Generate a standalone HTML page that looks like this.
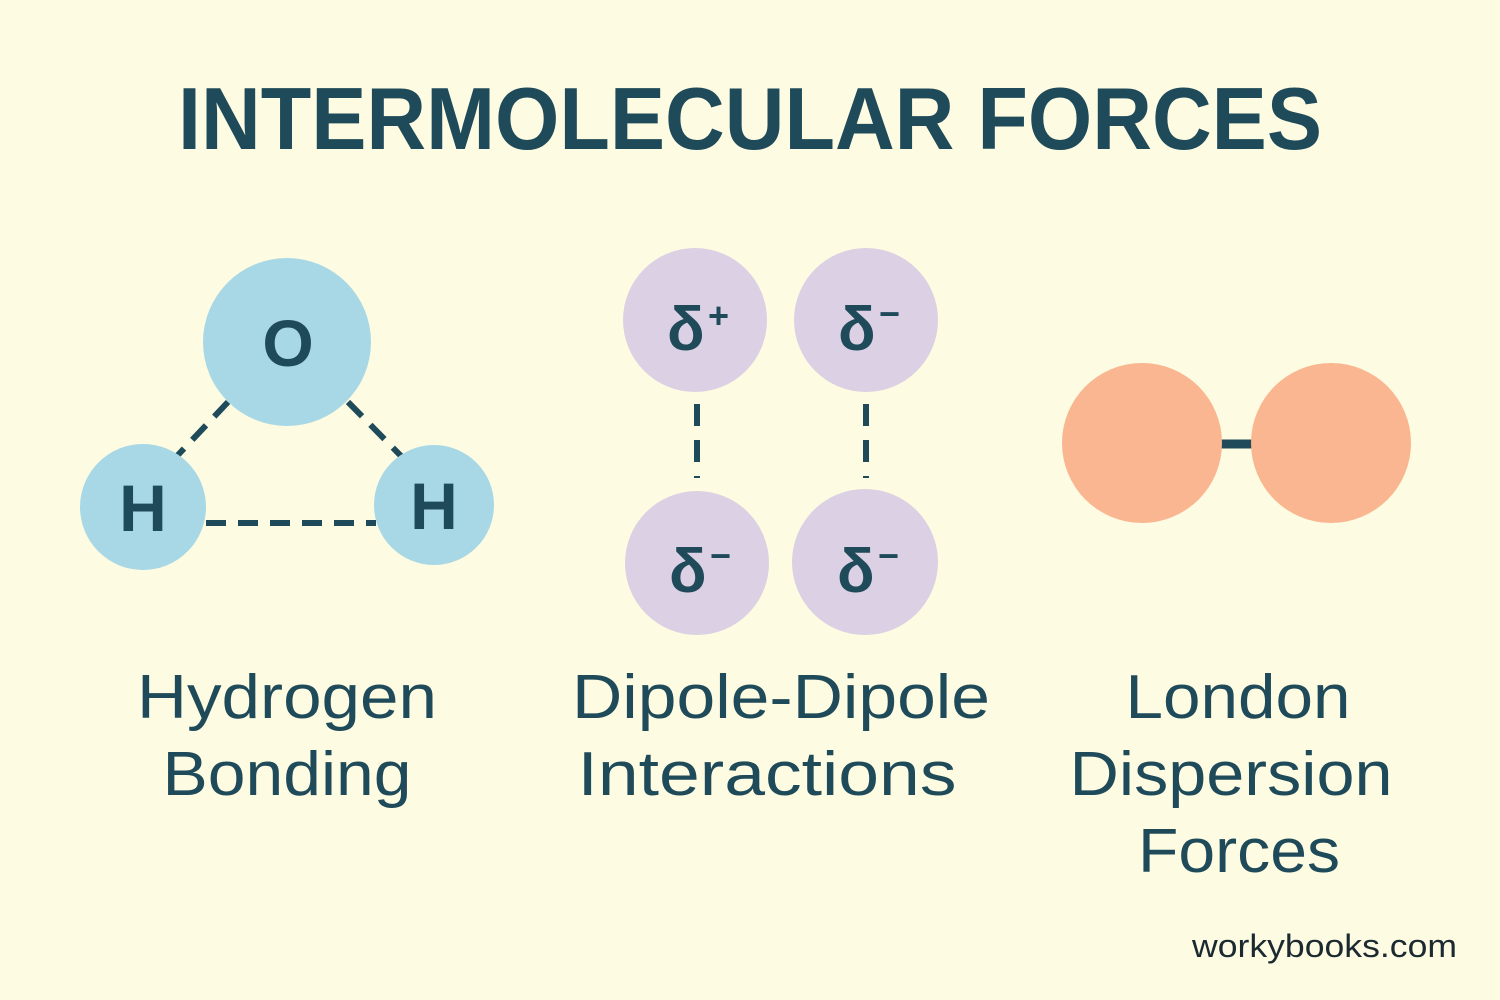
<!DOCTYPE html>
<html><head><meta charset="utf-8"><style>
html,body{margin:0;padding:0;background:#fdfbe1;}
svg{display:block}
text{font-family:"Liberation Sans","DejaVu Sans",sans-serif;fill:#1f4a5a;}
</style></head><body>
<svg width="1500" height="1000" viewBox="0 0 1500 1000">
<rect width="1500" height="1000" fill="#fdfbe1"/>
<text x="750" y="149" text-anchor="middle" font-size="88" font-weight="bold" textLength="1144" lengthAdjust="spacingAndGlyphs">INTERMOLECULAR FORCES</text>

<g stroke="#1f4a5a" stroke-width="6" stroke-dasharray="20,12" fill="none">
<line x1="228" y1="402" x2="176" y2="457"/>
<line x1="348" y1="402" x2="402" y2="457"/>
<line x1="206" y1="523" x2="376" y2="523"/>
<line x1="697" y1="404" x2="697" y2="478" stroke-dasharray="22,14"/>
<line x1="866" y1="404" x2="866" y2="478" stroke-dasharray="22,14"/>
</g>
<circle cx="287" cy="342" r="84" fill="#a8d8e6"/>
<circle cx="143" cy="507" r="63" fill="#a8d8e6"/>
<circle cx="434" cy="505" r="60" fill="#a8d8e6"/>
<g font-weight="bold" text-anchor="middle">
<text x="288" y="366" font-size="66">O</text>
<text x="143" y="531" font-size="66">H</text>
<text x="434" y="529" font-size="66">H</text>
</g>

<circle cx="695" cy="320" r="72" fill="#dcd0e4"/>
<circle cx="866" cy="320" r="72" fill="#dcd0e4"/>
<circle cx="697" cy="563" r="72" fill="#dcd0e4"/>
<circle cx="865" cy="562" r="73" fill="#dcd0e4"/>
<g font-size="62" font-weight="bold">
<text x="667" y="350">δ</text><text x="708" y="328" font-size="36">+</text>
<text x="838" y="350">δ</text><text x="879" y="326" font-size="36">−</text>
<text x="669" y="592">δ</text><text x="710" y="568" font-size="36">−</text>
<text x="837" y="592">δ</text><text x="878" y="568" font-size="36">−</text>
</g>

<line x1="1220" y1="444" x2="1255" y2="444" stroke="#1f4a5a" stroke-width="9"/>
<circle cx="1142" cy="443" r="80" fill="#f9b690"/>
<circle cx="1331" cy="443" r="80" fill="#f9b690"/>

<g font-size="62" text-anchor="middle">
<text x="287" y="718" textLength="300" lengthAdjust="spacingAndGlyphs">Hydrogen</text>
<text x="287" y="795" textLength="249" lengthAdjust="spacingAndGlyphs">Bonding</text>
<text x="781" y="718" textLength="418" lengthAdjust="spacingAndGlyphs">Dipole-Dipole</text>
<text x="767" y="795" textLength="379" lengthAdjust="spacingAndGlyphs">Interactions</text>
<text x="1238" y="718" textLength="225" lengthAdjust="spacingAndGlyphs">London</text>
<text x="1231" y="795" textLength="323" lengthAdjust="spacingAndGlyphs">Dispersion</text>
<text x="1239" y="872" textLength="202" lengthAdjust="spacingAndGlyphs">Forces</text>
</g>
<text x="1192" y="957" font-size="32" textLength="265" lengthAdjust="spacingAndGlyphs" style="fill:#1a2a30">workybooks.com</text>
</svg>
</body></html>
